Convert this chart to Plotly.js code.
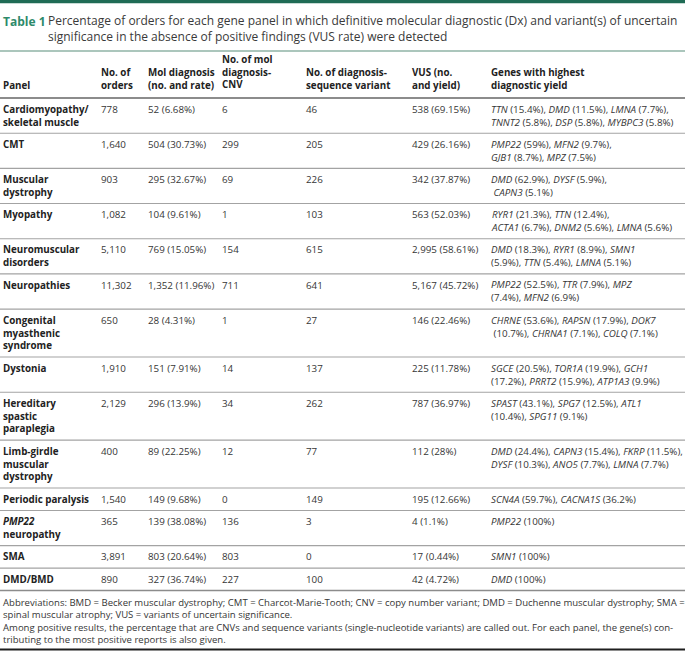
<!DOCTYPE html>
<html>
<head>
<meta charset="utf-8">
<script src="https://cdn.plot.ly/plotly-3.0.1.min.js"></script>
<style>html,body{margin:0;padding:0;background:#fff;}#chart{width:685px;height:661px;}</style>
</head>
<body>
<div id="chart"></div>
<script>
// ---------------- DATA ----------------
const titleLabel = "Table 1";
const titleText = [
  "Percentage of orders for each gene panel in which definitive molecular diagnostic (Dx) and variant(s) of uncertain",
  "significance in the absence of positive findings (VUS rate) were detected"
];
const headers = [
  "Panel",
  "No. of\norders",
  "Mol diagnosis\n(no. and rate)",
  "No. of mol\ndiagnosis-\nCNV",
  "No. of diagnosis-\nsequence variant",
  "VUS (no.\nand yield)",
  "Genes with highest\ndiagnostic yield"
];
const panels = [
  "Cardiomyopathy/\nskeletal muscle", "CMT", "Muscular\ndystrophy", "Myopathy",
  "Neuromuscular\ndisorders", "Neuropathies", "Congenital\nmyasthenic\nsyndrome", "Dystonia",
  "Hereditary\nspastic\nparaplegia", "Limb-girdle\nmuscular\ndystrophy", "Periodic paralysis",
  "<i>PMP22</i>\nneuropathy", "SMA", "DMD/BMD"
];
const orders = [778, 1640, 903, 1082, 5110, 11302, 650, 1910, 2129, 400, 1540, 365, 3891, 890];
const molDx = [52, 504, 295, 104, 769, 1352, 28, 151, 296, 89, 149, 139, 803, 327];
const molDxRate = [6.68, 30.73, 32.67, 9.61, 15.05, 11.96, 4.31, 7.91, 13.9, 22.25, 9.68, 38.08, 20.64, 36.74];
const dxCNV = [6, 299, 69, 1, 154, 711, 1, 14, 34, 12, 0, 136, 803, 227];
const dxSeq = [46, 205, 226, 103, 615, 641, 27, 137, 262, 77, 149, 3, 0, 100];
const vus = [538, 429, 342, 563, 2995, 5167, 146, 225, 787, 112, 195, 4, 17, 42];
const vusRate = [69.15, 26.16, 37.87, 52.03, 58.61, 45.72, 22.46, 11.78, 36.97, 28, 12.66, 1.1, 0.44, 4.72];
const genes = [
  "TTN (15.4%), DMD (11.5%), LMNA (7.7%),\nTNNT2 (5.8%), DSP (5.8%), MYBPC3 (5.8%)",
  "PMP22 (59%), MFN2 (9.7%),\nGJB1 (8.7%), MPZ (7.5%)",
  "DMD (62.9%), DYSF (5.9%),\n CAPN3 (5.1%)",
  "RYR1 (21.3%), TTN (12.4%),\nACTA1 (6.7%), DNM2 (5.6%), LMNA (5.6%)",
  "DMD (18.3%), RYR1 (8.9%), SMN1\n(5.9%), TTN (5.4%), LMNA (5.1%)",
  "PMP22 (52.5%), TTR (7.9%), MPZ\n(7.4%), MFN2 (6.9%)",
  "CHRNE (53.6%), RAPSN (17.9%), DOK7\n (10.7%), CHRNA1 (7.1%), COLQ (7.1%)",
  "SGCE (20.5%), TOR1A (19.9%), GCH1\n(17.2%), PRRT2 (15.9%), ATP1A3 (9.9%)",
  "SPAST (43.1%), SPG7 (12.5%), ATL1\n(10.4%), SPG11 (9.1%)",
  "DMD (24.4%), CAPN3 (15.4%), FKRP (11.5%),\nDYSF (10.3%), ANO5 (7.7%), LMNA (7.7%)",
  "SCN4A (59.7%), CACNA1S (36.2%)",
  "PMP22 (100%)",
  "SMN1 (100%)",
  "DMD (100%)"
];
const footnotes = [
  "Abbreviations: BMD = Becker muscular dystrophy; CMT = Charcot-Marie-Tooth; CNV = copy number variant; DMD = Duchenne muscular dystrophy; SMA =",
  "spinal muscular atrophy; VUS = variants of uncertain significance.",
  "Among positive results, the percentage that are CNVs and sequence variants (single-nucleotide variants) are called out. For each panel, the gene(s) con-",
  "tributing to the most positive reports is also given."
];

(function () {
// ---------------- LAYOUT / STYLE ----------------
const W = 685, H = 661;
const FONT = "'Open Sans', 'Noto Sans', sans-serif";
const FS = 9.8;                 // cell font size
const LH = FS * 1.3;            // Plotly's own line spacing for <br>
const PAD = 9.7;                // vertical padding per row
const colX = [3, 101, 148, 222, 306, 412, 491];
const TXT = "#363636";
const DARK = "#222222";
const GREEN = "#2e8a6b";
const fmt = n => n.toLocaleString("en-US");
const italGenes = s => s.replace(/\b([A-Z][A-Z0-9]{1,})\b/g, "<i>$1</i>");

const rows = panels.map((p, i) => [
  "<b>" + p.split("\n").join("</b>\n<b>") + "</b>",
  fmt(orders[i]),
  fmt(molDx[i]) + " (" + molDxRate[i] + "%)",
  fmt(dxCNV[i]),
  fmt(dxSeq[i]),
  fmt(vus[i]) + " (" + vusRate[i] + "%)",
  italGenes(genes[i])
]);

const annotations = [];
const shapes = [];
// place a (possibly multi-line) text block: firstY = centre of its first line
function addBlock(x, firstY, text, size, color, lineH) {
  const lines = text.split("\n");
  annotations.push({
    x: x, y: firstY + (lines.length - 1) * lineH / 2, xref: "x", yref: "y",
    text: lines.join("<br>"), showarrow: false,
    xanchor: "left", yanchor: "middle", align: "left",
    borderpad: 0, borderwidth: 0,
    font: {family: FONT, size: size, color: color}
  });
}
function hline(y, color, width) {
  shapes.push({type: "line", xref: "x", yref: "y", x0: 0, x1: W, y0: y, y1: y,
    line: {color: color, width: width}});
}

// top bar
shapes.push({type: "rect", xref: "x", yref: "y", x0: 0, x1: W, y0: 0, y1: 3.2,
  fillcolor: "#1f6b55", line: {width: 0}});
// title
const TFS = 12;
addBlock(3, 21, "<b>" + titleLabel + "</b>", TFS, GREEN, TFS * 1.3);
addBlock(48, 21, titleText.join("\n"), TFS, "#3a3a3a", TFS * 1.3);
hline(51, "#8fb3a6", 1.5);

// header (bottom aligned)
const headBottom = 85;
headers.forEach((h, c) => {
  const n = h.split("\n").length;
  addBlock(colX[c], headBottom - (n - 1) * LH, "<b>" + h.split("\n").join("</b>\n<b>") + "</b>", FS, DARK, LH);
});
hline(98, "#8c8c8c", 2);

// rows
let rowTop = 98;
rows.forEach((cells, r) => {
  const n = Math.max(...cells.map(c => c.split("\n").length));
  cells.forEach((cell, c) => addBlock(colX[c], rowTop + PAD / 2 + LH / 2, cell, FS, c === 0 ? DARK : TXT, LH));
  rowTop += PAD + n * LH;
  hline(rowTop, r === rows.length - 1 ? "#8c8c8c" : "#a3a3a3", r === rows.length - 1 ? 1.6 : 1.1);
});

// footnotes
const FFS = 9.55;
const FLH = FFS * 1.3;
addBlock(3, rowTop + 11.5, footnotes.slice(0, 2).join("\n"), FFS, TXT, FLH);
addBlock(3, rowTop + 11.5 + 2 * FLH + 0.5, footnotes.slice(2).join("\n"), FFS, TXT, FLH);
hline(rowTop + 59, "#1e1e1e", 2);

Plotly.newPlot("chart", [{x: [], y: [], type: "scatter", mode: "markers", hoverinfo: "skip", showlegend: false}], {
  width: W, height: H,
  margin: {l: 0, r: 0, t: 0, b: 0, pad: 0},
  paper_bgcolor: "#ffffff", plot_bgcolor: "#ffffff",
  xaxis: {range: [0, W], visible: false, fixedrange: true},
  yaxis: {range: [H, 0], visible: false, fixedrange: true},
  showlegend: false,
  annotations: annotations,
  shapes: shapes
}, {staticPlot: true, displayModeBar: false});
})();
</script>
</body>
</html>
